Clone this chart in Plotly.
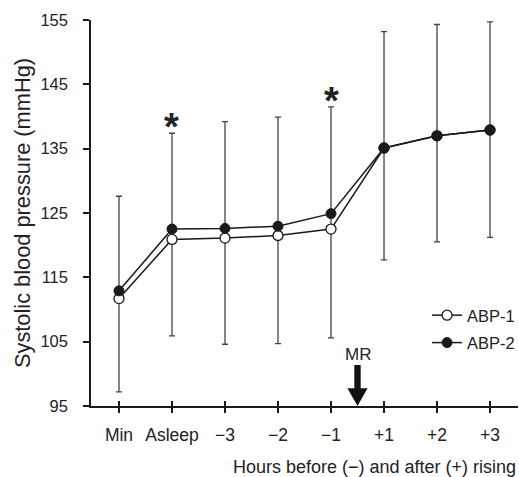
import plotly.graph_objects as go

categories = ["Min", "Asleep", "\u22123", "\u22122", "\u22121", "+1", "+2", "+3"]
abp1 = [111.7, 120.9, 121.1, 121.5, 122.5, 135.1, 137.0, 137.9]
abp2 = [112.9, 122.5, 122.6, 122.95, 124.9, 135.1, 137.0, 137.9]
err_top = [127.6, 137.4, 139.2, 139.9, 141.5, 153.2, 154.3, 154.7]
err_bottom = [97.2, 105.9, 104.6, 104.7, 105.6, 117.7, 120.5, 121.2]
star_idx = [1, 4]
mr_pos = 4.5
y_ticks = [95, 105, 115, 125, 135, 145, 155]

x = list(range(len(categories)))
mid = [(a + b) / 2 for a, b in zip(err_top, err_bottom)]
up = [t - m for t, m in zip(err_top, mid)]
dn = [m - b for m, b in zip(mid, err_bottom)]

FONT = "Liberation Sans, Arial, sans-serif"
TXT = "#222222"

fig = go.Figure()
fig.add_trace(go.Scatter(
    x=x, y=mid, mode="markers", marker=dict(size=1, color="rgba(0,0,0,0)"),
    error_y=dict(type="data", symmetric=False, array=up, arrayminus=dn,
                 color="#444444", thickness=1.3, width=3),
    showlegend=False, hoverinfo="skip"))
fig.add_trace(go.Scatter(
    x=x, y=abp1, mode="lines+markers", name="ABP-1", legendgroup="a",
    line=dict(color="#1a1a1a", width=1.5),
    marker=dict(symbol="circle", size=10, color="white",
                line=dict(color="#1a1a1a", width=1.3))))
fig.add_trace(go.Scatter(
    x=x, y=abp2, mode="lines+markers", name="ABP-2", legendgroup="b",
    line=dict(color="#1a1a1a", width=1.5),
    marker=dict(symbol="circle", size=10, color="#1a1a1a",
                line=dict(color="#1a1a1a", width=1))))
# overlay axis for inward tick halves
fig.add_trace(go.Scatter(x=[None], y=[None], xaxis="x2", showlegend=False,
                         hoverinfo="skip"))

for i in star_idx:
    fig.add_annotation(x=i, y=err_top[i], text="<b>*</b>", showarrow=False,
                       yanchor="bottom", yshift=-17,
                       font=dict(family=FONT, size=38, color=TXT))

# MR arrow
sw, hw = 0.06, 0.19
y_tip, y_head, y_top = 95, 97.75, 101.37
path = (f"M {mr_pos-sw},{y_top} L {mr_pos+sw},{y_top} L {mr_pos+sw},{y_head} "
        f"L {mr_pos+hw},{y_head} L {mr_pos},{y_tip} L {mr_pos-hw},{y_head} "
        f"L {mr_pos-sw},{y_head} Z")
fig.add_shape(type="path", path=path, xref="x", yref="y",
              fillcolor="#111111", line=dict(width=0))
fig.add_annotation(x=mr_pos, y=y_top, text="MR", showarrow=False,
                   yanchor="bottom", yshift=-1,
                   font=dict(family=FONT, size=17, color=TXT))

fig.add_annotation(xref="paper", yref="paper", x=1.0, y=0, xanchor="right",
                   yanchor="middle", yshift=-60.7,
                   text="Hours before (\u2212) and after (+) rising",
                   showarrow=False, font=dict(family=FONT, size=18, color=TXT))

xr = [-0.528, 7.528]
fig.update_layout(
    width=519, height=477,
    margin=dict(l=91, r=1, t=19.5, b=71, autoexpand=False),
    paper_bgcolor="white", plot_bgcolor="white",
    font=dict(family=FONT, size=16, color=TXT),
    xaxis=dict(range=xr, tickmode="array", tickvals=x, ticktext=categories,
               showgrid=False, zeroline=False, showline=True,
               linecolor="#1a1a1a", linewidth=1.5, ticks="outside",
               ticklen=5, tickwidth=1.5, tickcolor="#1a1a1a",
               ticklabelstandoff=7, tickfont=dict(size=17.5, color=TXT)),
    xaxis2=dict(range=xr, overlaying="x", anchor="y", side="bottom",
                tickmode="array", tickvals=x, showticklabels=False,
                showgrid=False, zeroline=False, showline=False,
                ticks="inside", ticklen=5, tickwidth=1.5, tickcolor="#1a1a1a"),
    yaxis=dict(range=[95, 155], tickmode="array", tickvals=y_ticks,
               showgrid=False, zeroline=False, showline=True,
               linecolor="#1a1a1a", linewidth=1.5, ticks="outside",
               ticklen=6, tickwidth=1.5, tickcolor="#1a1a1a",
               ticklabelstandoff=12, tickfont=dict(size=16.5, color=TXT),
               automargin=False,
               title=dict(text="Systolic blood pressure (mmHg)",
                          font=dict(size=21.8, color=TXT), standoff=4)),
    legend=dict(x=0.787, y=0.28, xanchor="left", yanchor="top",
                bgcolor="rgba(0,0,0,0)", font=dict(size=16.5, color=TXT),
                traceorder="grouped", tracegroupgap=3),
    showlegend=True,
)
fig.write_html(
    "out.html",
    config={"displayModeBar": False},
    post_script="document.body.style.margin='0';"
                "document.body.style.overflow='hidden';")
